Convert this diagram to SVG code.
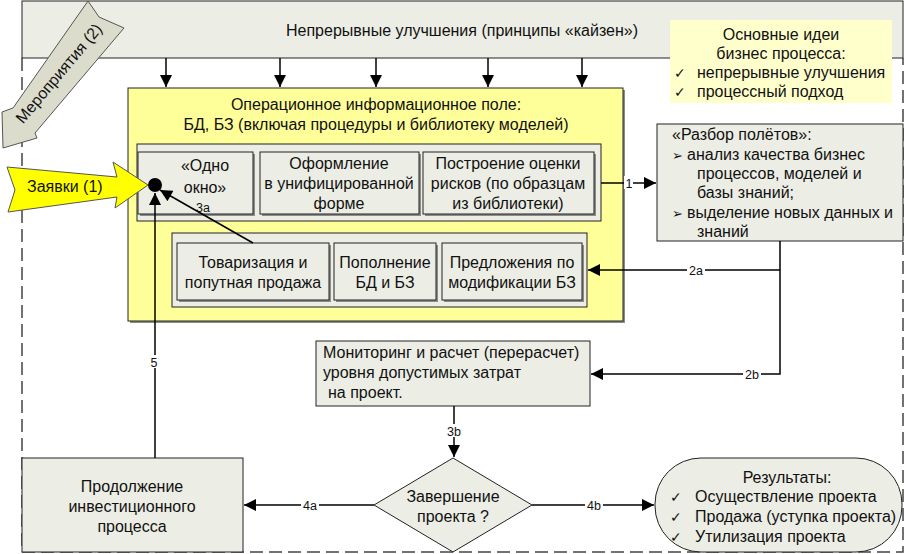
<svg xmlns="http://www.w3.org/2000/svg" width="904" height="554" viewBox="0 0 904 554">
<defs>
<marker id="ahl" viewBox="0 0 10 10" refX="10" refY="5" markerWidth="18" markerHeight="12" markerUnits="userSpaceOnUse" orient="auto"><path d="M0,0 L10,5 L0,10 z" fill="#000"/></marker>
<style>
text{font-family:"Liberation Sans",Arial,sans-serif;font-size:16px;fill:#111}
.c{text-anchor:middle}
.sm{font-size:12.5px}
.g{fill:#ecede4;stroke:#222;stroke-width:1}
.sh{fill:#8c8c8c}
.ln{stroke:#000;stroke-width:1.5;fill:none}
.lab{fill:#fff}
</style>
</defs>
<rect width="904" height="554" fill="#fff"/>
<g id="border"><path d="M22,58 V552 H903 V58" fill="none" stroke="#444" stroke-width="1.5" stroke-dasharray="13,6"/></g>
<g id="banner"><rect x="22" y="1" width="881" height="57" fill="#ecede4" stroke="#222"/><text class="c" x="462" y="36">Непрерывные улучшения (принципы «кайзен»)</text></g>
<g id="ideas"><rect x="670" y="20" width="222" height="83" fill="#ffffcc"/>
<text class="c" x="781" y="40">Основные идеи</text><text class="c" x="781" y="59">бизнес процесса:</text>
<text x="674" y="78" style="font-size:14px">✓</text><text x="697" y="78">непрерывные улучшения</text>
<text x="674" y="97" style="font-size:14px">✓</text><text x="697" y="97">процессный подход</text></g>
<g id="field"><rect x="130" y="90" width="495" height="233" class="sh"/><rect x="128" y="88" width="495" height="233" fill="#ffff99" stroke="#222"/>
<text class="c" x="376" y="110">Операционное информационное поле:</text><text class="c" x="376" y="130">БД, БЗ (включая процедуры и библиотеку моделей)</text></g>
<g id="group1"><rect x="137" y="144" width="464" height="77" class="g"/></g>
<g id="odno"><rect x="140" y="154" width="115" height="62" class="sh"/><rect x="138" y="152" width="115" height="62" class="g"/><text class="c" x="205" y="171">«Одно</text><text class="c" x="205" y="193">окно»</text></g>
<g id="oform"><rect x="262" y="154" width="159" height="62" class="sh"/><rect x="260" y="152" width="159" height="62" class="g"/><text class="c" x="339" y="169">Оформление</text><text class="c" x="339" y="189">в унифицированной</text><text class="c" x="339" y="209">форме</text></g>
<g id="risk"><rect x="425" y="154" width="171" height="62" class="sh"/><rect x="423" y="152" width="171" height="62" class="g"/><text class="c" x="508" y="169">Построение оценки</text><text class="c" x="508" y="189">рисков (по образцам</text><text class="c" x="508" y="209">из библиотеки)</text></g>
<g id="group2"><rect x="172" y="233" width="415" height="74" class="g"/></g>
<g id="tovar"><rect x="179" y="245" width="152" height="57" class="sh"/><rect x="177" y="243" width="152" height="57" class="g"/><text class="c" x="253" y="268">Товаризация и</text><text class="c" x="253" y="288">попутная продажа</text></g>
<g id="popoln"><rect x="336" y="245" width="102" height="57" class="sh"/><rect x="334" y="243" width="102" height="57" class="g"/><text class="c" x="385" y="268">Пополнение</text><text class="c" x="385" y="288">БД и БЗ</text></g>
<g id="predl"><rect x="444" y="245" width="140" height="57" class="sh"/><rect x="442" y="243" width="140" height="57" class="g"/><text class="c" x="512" y="268">Предложения по</text><text class="c" x="512" y="288">модификации БЗ</text></g>
<g id="razbor"><rect x="657" y="124" width="246" height="117" class="g"/>
<text x="672" y="140">«Разбор полётов»:</text>
<text x="672" y="160" style="font-size:13px">➢</text><text x="687" y="160">анализ качества бизнес</text>
<text x="697" y="179">процессов, моделей и</text><text x="697" y="198">базы знаний;</text>
<text x="672" y="218" style="font-size:13px">➢</text><text x="687" y="218">выделение новых данных и</text>
<text x="697" y="237">знаний</text></g>
<g id="monitor"><rect x="316" y="341" width="274" height="65" class="g"/><text x="323" y="358">Мониторинг и расчет (перерасчет)</text><text x="323" y="378">уровня допустимых затрат</text><text x="328" y="398">на проект.</text></g>
<g id="decision"><polygon points="453,458 532,505 453,552 374,505" class="g"/><text class="c" x="453" y="502">Завершение</text><text class="c" x="453" y="522">проекта ?</text></g>
<g id="continue"><rect x="22" y="458" width="221" height="94" class="g"/><text class="c" x="132" y="492">Продолжение</text><text class="c" x="132" y="512">инвестиционного</text><text class="c" x="132" y="532">процесса</text></g>
<g id="results"><rect x="655" y="458" width="247" height="94" rx="46" ry="46" class="g"/>
<text class="c" x="787" y="483">Результаты:</text>
<text x="670" y="502" style="font-size:14px">✓</text><text x="695" y="502">Осуществление проекта</text>
<text x="670" y="522" style="font-size:14px">✓</text><text x="695" y="522">Продажа (уступка проекта)</text>
<text x="670" y="542" style="font-size:14px">✓</text><text x="695" y="542">Утилизация проекта</text></g>
<g id="zayavki"><polygon points="7,167 117,177 113,162 148,185 115,208 117,197 8,212 15,190" fill="#ffff00" stroke="#555"/><text x="27" y="192">Заявки (1)</text></g>
<g id="meropr"><polygon points="88,1 99,17 124,28 35,133 37,138 3,148 2,112 13,108" fill="#dcdccd" stroke="#555"/><text class="c" transform="translate(63,77) rotate(-50)">Мероприятия (2)</text></g>
<g id="connectors">
<path class="ln" d="M166,58 V87" marker-end="url(#ahl)"/>
<path class="ln" d="M280,58 V87" marker-end="url(#ahl)"/>
<path class="ln" d="M376,58 V87" marker-end="url(#ahl)"/>
<path class="ln" d="M488,58 V87" marker-end="url(#ahl)"/>
<path class="ln" d="M582,58 V87" marker-end="url(#ahl)"/>
<path class="ln" d="M601,183 H656" marker-end="url(#ahl)"/>
<rect class="lab" x="624" y="176" width="9" height="13"/><text class="sm c" x="629" y="188">1</text>
<path class="ln" d="M780,241 V374 H591" marker-end="url(#ahl)"/>
<path class="ln" d="M780,270 H588" marker-end="url(#ahl)"/>
<rect class="lab" x="687" y="263" width="18" height="13"/><text class="sm c" x="696" y="275">2a</text>
<rect class="lab" x="743" y="367" width="18" height="13"/><text class="sm c" x="752" y="379">2b</text>
<path class="ln" d="M454,406 V457" marker-end="url(#ahl)"/>
<rect class="lab" x="445" y="424" width="18" height="13"/><text class="sm c" x="454" y="436">3b</text>
<path class="ln" d="M374,505 H244" marker-end="url(#ahl)"/>
<rect class="lab" x="301" y="498" width="18" height="13"/><text class="sm c" x="310" y="510">4a</text>
<path class="ln" d="M532,505 H654" marker-end="url(#ahl)"/>
<rect class="lab" x="585" y="498" width="18" height="13"/><text class="sm c" x="594" y="510">4b</text>
<path class="ln" d="M155,458 V193" marker-end="url(#ahl)"/>
<rect class="lab" x="149" y="355" width="11" height="13"/><text class="sm c" x="154" y="367">5</text>
<path class="ln" d="M253,243 L160,190" marker-end="url(#ahl)"/>
<text class="sm c" x="203" y="212">3а</text>
<circle cx="155" cy="185" r="7" fill="#000"/>
</g>
</svg>
